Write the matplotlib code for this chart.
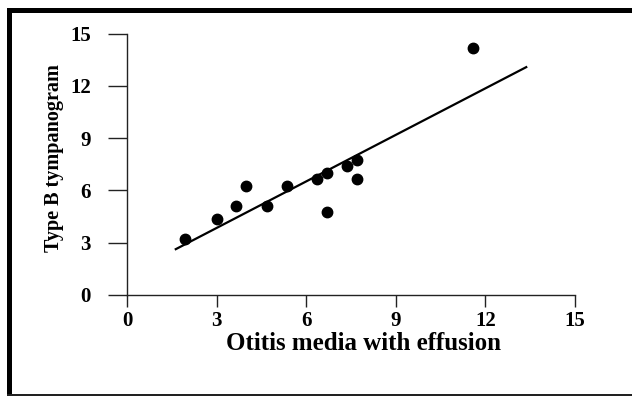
import matplotlib.pyplot as plt
from matplotlib.patches import Rectangle

plt.rcParams["font.family"] = ["Liberation Serif", "DejaVu Serif"]
plt.rcParams["font.weight"] = "bold"

# values
ome = [1.95, 3.0, 3.65, 4.0, 4.7, 5.35, 6.35, 6.7, 6.7, 7.35, 7.7, 7.7, 11.6]
type_b = [3.2, 4.35, 5.1, 6.25, 5.1, 6.25, 6.65, 7.0, 4.75, 7.4, 7.75, 6.65, 14.15]
fit_x = [1.6, 13.4]
fit_y = [2.6, 13.1]
ticks = [0, 3, 6, 9, 12, 15]

W, H = 632, 396
fig = plt.figure(figsize=(W / 100, H / 100), dpi=100)
ax = fig.add_axes([127 / W, (H - 295) / H, (575 - 127) / W, (295 - 33.5) / H])

ax.plot(fit_x, fit_y, color="black", lw=1.6, solid_capstyle="butt")
ax.plot(ome, type_b, "o", color="black", ms=7.5, clip_on=False)

ax.set_xlim(0, 15)
ax.set_ylim(0, 15)
ax.set_xticks(ticks)
ax.set_yticks(ticks)
for s in ["top", "right"]:
    ax.spines[s].set_visible(False)
for s in ["left", "bottom"]:
    ax.spines[s].set_linewidth(1.0)
    ax.spines[s].set_color("#222222")
ax.tick_params(axis="y", direction="out", length=14, width=1.0, pad=12,
               labelsize=15, color="#222222")
ax.tick_params(axis="x", direction="out", length=8.5, width=1.0, pad=3,
               labelsize=15, color="#222222")

ax.set_xlabel("Otitis media with effusion", fontsize=18, fontweight="bold", va="center")
ax.xaxis.set_label_coords(0.528, -0.185)
ax.set_ylabel("Type B tympanogram", fontsize=14.5, fontweight="bold", va="center")
ax.yaxis.set_label_coords(-0.163, 0.524)

# black frame around the picture
fig.add_artist(Rectangle((7 / W, 1 - 13 / H), 1 - 7 / W, 5 / H, transform=fig.transFigure,
                         color="black", lw=0))
fig.add_artist(Rectangle((7 / W, 0), 5 / W, 1 - 8 / H, transform=fig.transFigure,
                         color="black", lw=0))
fig.add_artist(Rectangle((7 / W, 0), 1 - 7 / W, 2 / H, transform=fig.transFigure,
                         color="#222222", lw=0))

fig.savefig("out.png", dpi=100)
